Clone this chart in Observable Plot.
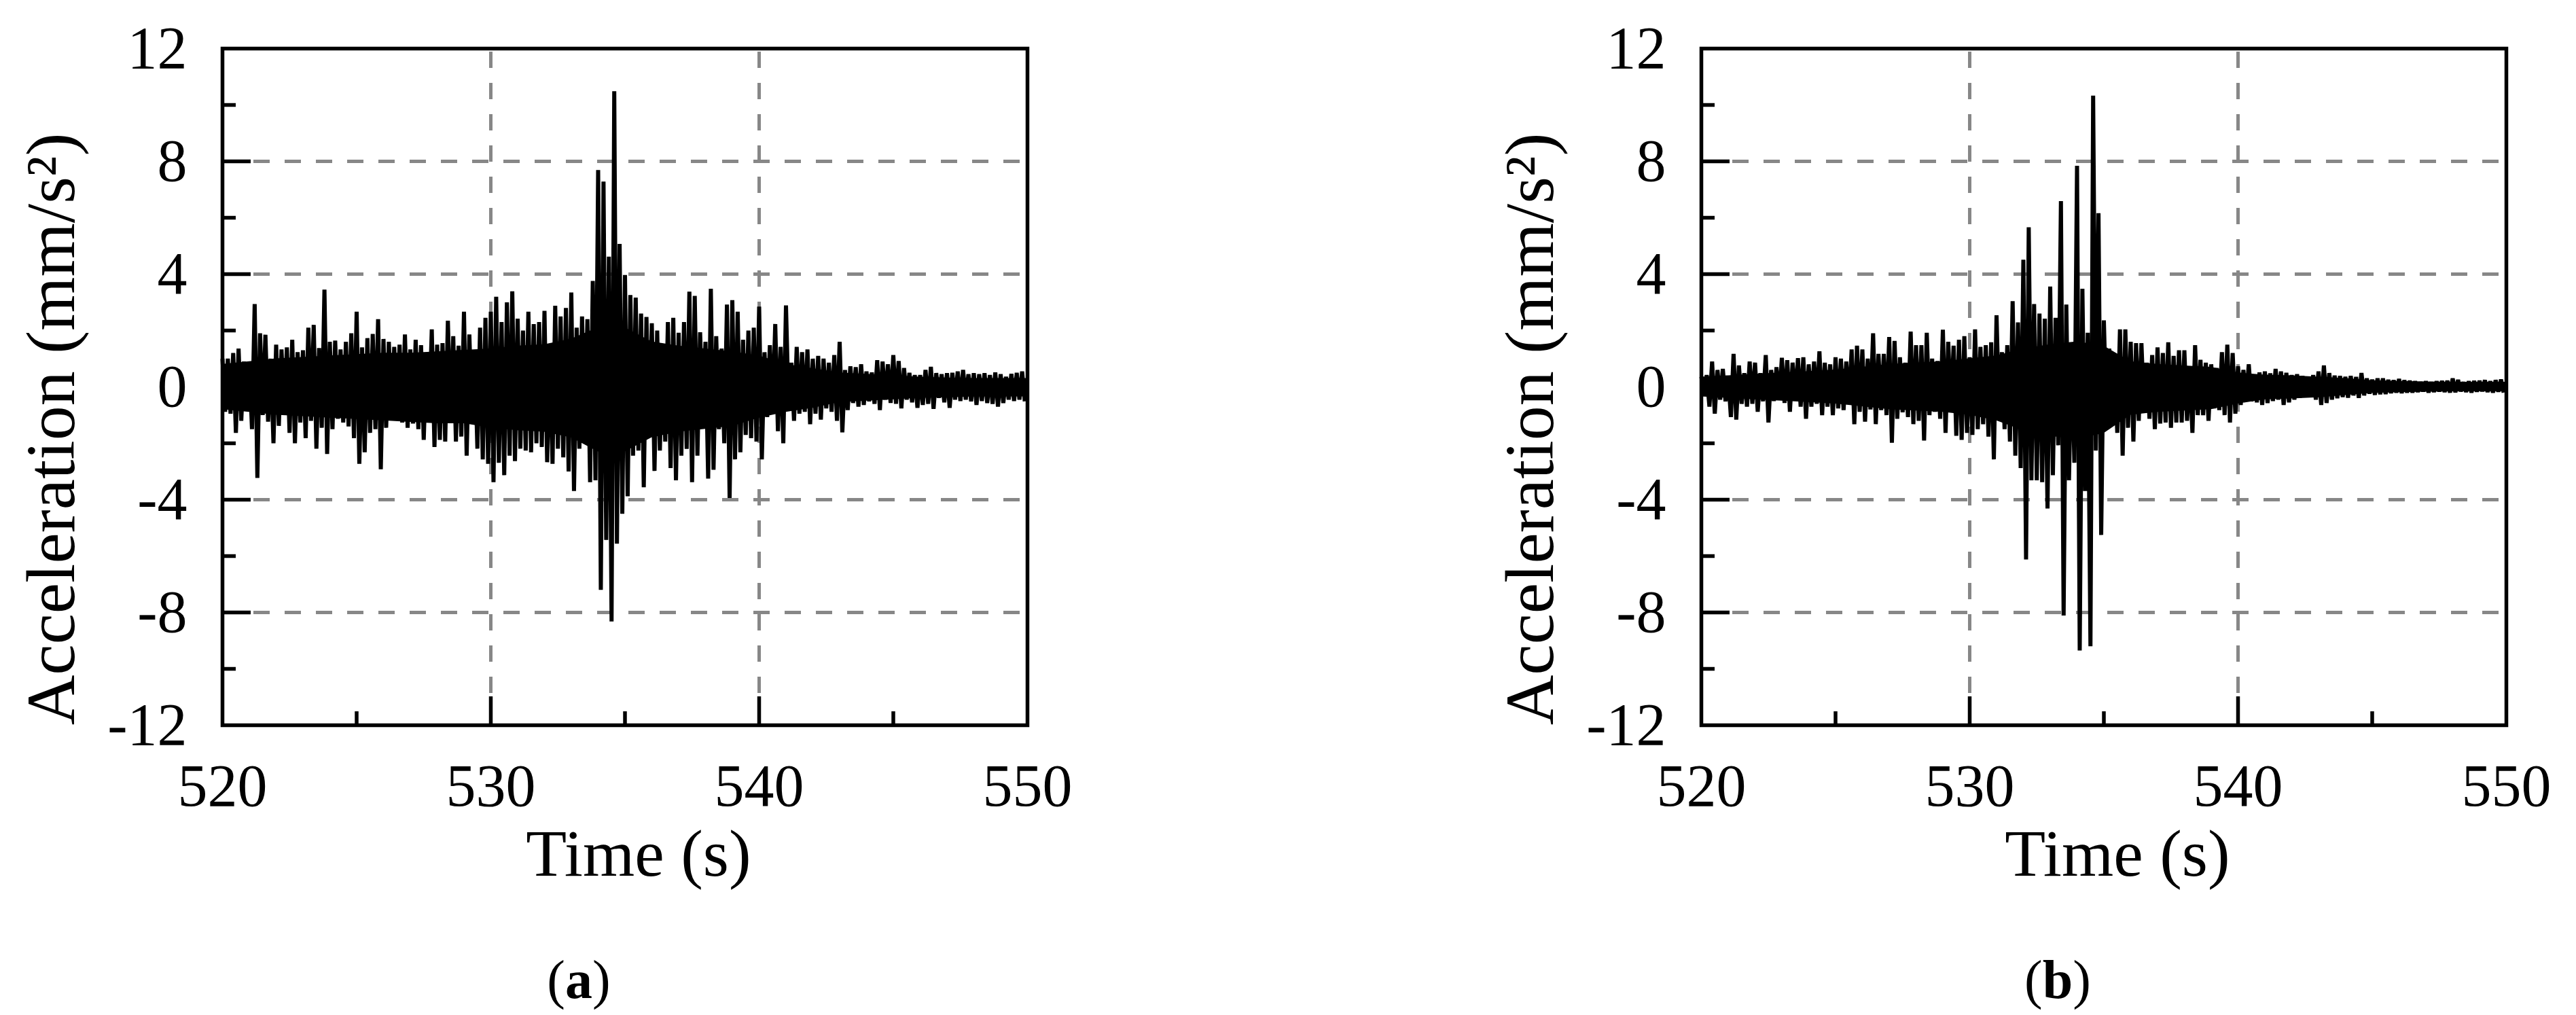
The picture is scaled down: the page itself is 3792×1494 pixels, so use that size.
<!DOCTYPE html>
<html>
<head>
<meta charset="utf-8">
<script src="https://cdn.jsdelivr.net/npm/d3@7"></script>
<script src="https://cdn.jsdelivr.net/npm/@observablehq/plot@0.6"></script>
<style>
  html, body { margin: 0; padding: 0; background: #fff; }
  #page { position: relative; width: 3792px; height: 1494px; background: #fff; overflow: hidden;
          font-family: "Liberation Serif", "Times New Roman", serif; color: #000; }
  .panel { position: absolute; top: 0; width: 1615px; height: 1494px; }
  .panel svg { position: absolute; left: 0; top: 0; }
  .cap { position: absolute; top: 1402px; left: 0; width: 1704px; text-align: center;
         font-size: 80px; line-height: 80px; font-family: "Liberation Serif", "Times New Roman", serif; }
</style>
</head>
<body>
<div id="page"></div>
<script>
// ---- data ----
const timeStart = 520;     // s, first sample
const sampleStep = 0.1;    // s, samples alternate peak / trough

// Panel (a): local peaks (every 0.2 s) and troughs (offset 0.1 s)
const upA = [
  1.0,1.0,1.2,1.36,0.9,0.8,2.94,1.9,1.85,1.0, 1.5,1.33,1.4,1.67,1.23,1.3,2.1,2.2,1.38,3.45,
  1.6,1.64,1.33,1.6,1.9,2.67,1.4,1.73,1.88,2.4, 1.7,1.6,1.42,1.5,1.86,1.33,1.67,1.48,1.1,2.04,
  1.5,1.55,2.35,1.8,1.46,2.67,1.86,1.23,2.1,2.45,
  2.67,3.2,2.3,3.0,3.39,2.42,2.0,2.67,2.23,2.3, 2.7,1.26,2.88,2.5,2.8,3.35,2.1,2.5,2.4,3.76,
  7.69,7.28,4.62,10.49,5.07,3.97,3.26,3.17,2.6,2.48, 2.26,2.0,1.48,2.3,2.45,1.92,2.3,3.38,3.23,1.94,
  1.6,3.48,1.8,1.36,2.92,3.08,2.67,1.67,2.0,2.1,
  2.85,1.23,1.48,2.23,1.42,2.89,0.86,1.42,1.23,1.33, 1.0,1.1,1.0,0.86,1.13,1.6,0.6,0.73,0.7,0.8,
  0.55,0.51,0.95,0.9,0.8,1.13,0.92,0.67,0.5,0.42, 0.42,0.6,0.71,0.49,0.45,0.49,0.5,0.55,0.6,0.45,
  0.49,0.45,0.49,0.42,0.51,0.45,0.36,0.46,0.5,0.55
];
const downA = [
  -0.88,-0.95,-1.63,-1.2,-0.82,-1.5,-3.23,-1.0,-1.23,-2.0, -1.38,-1.0,-1.63,-2.0,-1.26,-1.82,-1.2,-2.19,-1.45,-2.38,
  -1.5,-1.13,-1.26,-1.4,-1.82,-2.73,-2.32,-1.63,-1.5,-2.92, -1.45,-1.13,-1.0,-1.26,-1.45,-1.3,-1.5,-1.88,-1.1,-2.13,
  -1.88,-1.94,-1.2,-1.94,-1.76,-2.44,-1.2,-2.19,-2.57,-2.73,
  -3.38,-2.69,-3.13,-2.44,-2.63,-2.19,-2.26,-2.32,-2.0,-2.13, -2.67,-2.73,-2.19,-2.5,-3.0,-3.69,-2.19,-1.88,-3.38,-3.31,
  -7.2,-5.43,-8.32,-5.56,-4.5,-3.88,-2.44,-2.26,-3.56,-1.76, -2.98,-2.26,-1.94,-2.88,-3.31,-2.44,-2.2,-3.38,-2.44,-1.13,
  -3.25,-2.94,-1.5,-2.0,-3.94,-2.57,-2.32,-1.7,-1.82,-1.94,
  -2.57,-1.07,-0.95,-1.57,-2.0,-0.82,-1.2,-0.95,-0.88,-1.32, -0.95,-1.16,-0.76,-0.88,-1.2,-1.61,-0.82,-0.57,-0.7,-0.64,
  -0.51,-0.6,-0.82,-0.45,-0.57,-0.6,-0.76,-0.45,-0.55,-0.74, -0.64,-0.6,-0.78,-0.39,-0.55,-0.74,-0.45,-0.5,-0.45,-0.51,
  -0.64,-0.5,-0.57,-0.6,-0.7,-0.57,-0.45,-0.5,-0.45,-0.51
];

// Panel (b)
const upB = [
  0.36,0.42,0.9,0.6,0.64,0.36,1.17,0.76,0.49,0.9, 0.86,0.49,1.13,0.6,0.7,1.03,0.95,0.86,1.02,1.05,
  0.8,0.9,1.26,0.86,0.8,1.05,1.0,0.9,1.33,1.46, 1.33,1.0,1.9,1.17,1.17,1.77,1.63,1.05,0.86,1.96,
  1.48,1.48,1.92,1.0,0.92,2.03,1.6,1.46,1.67,1.8,
  1.05,2.04,1.42,1.48,1.58,2.54,1.23,1.48,3.04,2.29, 4.51,5.66,2.94,2.6,2.42,3.56,2.45,6.59,2.92,1.55,
  7.84,3.48,1.92,10.33,6.16,2.36,1.36,0.8,2.04,2.04, 1.6,1.55,1.55,0.86,1.13,1.4,1.2,1.58,1.1,1.3,
  1.3,0.67,1.48,0.96,0.86,0.8,0.67,1.23,1.5,1.2,
  0.73,0.6,0.8,0.42,0.51,0.55,0.48,0.64,0.55,0.5, 0.42,0.45,0.39,0.35,0.42,0.55,0.76,0.49,0.4,0.39,
  0.36,0.39,0.35,0.49,0.3,0.26,0.3,0.3,0.25,0.24, 0.28,0.24,0.22,0.2,0.17,0.2,0.17,0.2,0.21,0.22,
  0.3,0.25,0.17,0.2,0.21,0.22,0.24,0.2,0.24,0.26
];
const downB = [
  -0.26,-0.7,-0.95,-0.45,-0.51,-1.07,-1.16,-0.6,-0.7,-0.6, -0.88,-0.51,-1.26,-0.5,-0.45,-0.57,-0.88,-0.39,-0.7,-1.13,
  -0.7,-0.6,-1.0,-0.7,-1.0,-0.76,-0.82,-0.6,-1.32,-0.88, -1.23,-0.8,-1.32,-0.82,-1.0,-1.98,-1.13,-0.9,-1.07,-1.32,
  -1.2,-1.9,-1.0,-0.88,-1.13,-1.63,-0.82,-1.73,-1.88,-1.63,
  -1.7,-1.5,-1.32,-1.76,-2.57,-1.13,-1.5,-1.94,-2.44,-2.88, -6.12,-3.31,-3.31,-3.38,-4.31,-3.13,-2.07,-8.11,-3.31,-2.69,
  -9.35,-3.69,-9.2,-2.26,-5.25,-1.26,-0.82,-1.63,-2.44,-1.45, -1.94,-1.2,-0.9,-1.13,-1.5,-1.3,-1.26,-1.45,-1.26,-1.26,
  -1.2,-1.63,-1.0,-1.0,-1.2,-0.76,-0.82,-1.0,-1.26,-0.95,
  -0.64,-0.45,-0.51,-0.55,-0.64,-0.57,-0.5,-0.45,-0.64,-0.55, -0.45,-0.38,-0.32,-0.35,-0.45,-0.64,-0.57,-0.45,-0.4,-0.36,
  -0.38,-0.3,-0.39,-0.3,-0.24,-0.28,-0.26,-0.25,-0.22,-0.2, -0.22,-0.2,-0.2,-0.18,-0.16,-0.2,-0.18,-0.16,-0.18,-0.2,
  -0.19,-0.16,-0.18,-0.2,-0.17,-0.16,-0.18,-0.2,-0.17,-0.2
];

// Solid (dense) core of each record, read once per second, 520 … 550 s
const coreTimes = [520,521,522,523,524,525,526,527,528,529,530,531,532,533,534,535,536,537,538,539,540,
                   541,542,543,544,545,546,547,548,549,550];
const coreUpA = [0.8,0.9,1.0,1.05,1.1,1.15,1.2,1.2,1.25,1.3, 1.35,1.45,1.5,1.7,2.1,2.1,1.6,1.45,1.35,1.25,
                 1.1,0.8,0.65,0.5,0.45,0.4,0.35,0.32,0.3,0.3,0.3];
const coreDownA = [-0.8,-0.9,-1.0,-1.05,-1.1,-1.15,-1.2,-1.25,-1.3,-1.3, -1.45,-1.55,-1.6,-1.8,-2.3,-2.3,-1.8,-1.6,-1.5,-1.4,
                   -1.1,-0.9,-0.75,-0.55,-0.5,-0.45,-0.4,-0.38,-0.35,-0.35,-0.35];
const coreUpB = [0.35,0.4,0.45,0.5,0.55,0.6,0.7,0.8,0.85,0.9, 1.0,1.1,1.35,1.5,1.6,1.45,0.9,0.8,0.75,0.7,
                 0.5,0.42,0.4,0.35,0.3,0.22,0.2,0.18,0.17,0.17,0.17];
const coreDownB = [-0.35,-0.4,-0.45,-0.5,-0.55,-0.6,-0.7,-0.8,-0.85,-0.9, -1.0,-1.2,-1.55,-1.75,-1.85,-1.65,-1.0,-0.9,-0.85,-0.8,
                   -0.6,-0.45,-0.42,-0.38,-0.3,-0.22,-0.2,-0.18,-0.17,-0.17,-0.17];

const xDomain = [520, 550];
const yDomain = [-12, 12];
const xMajorTicks = [520, 530, 540, 550];
const xMinorTicks = [525, 535, 545];
const xGridLines = [530, 540];
const yMajorTicks = [-12, -8, -4, 0, 4, 8, 12];
const yMinorTicks = [-10, -6, -2, 2, 6, 10];
const yGridLines = [-8, -4, 0, 4, 8];
const xTitle = "Time (s)";
const yTitle = "Acceleration (mm/s²)";
const captionLetters = ["a", "b"];

// ---- build ----
function buildRows(up, down) {
  const rows = [];
  for (let k = 0; k < up.length; k++) {
    rows.push({t: timeStart + 2 * k * sampleStep, a: up[k]});
    rows.push({t: timeStart + (2 * k + 1) * sampleStep, a: down[k]});
  }
  return rows;
}
function buildCore(hi, lo) {
  return coreTimes.map((t, i) => ({t, hi: hi[i], lo: lo[i]}));
}

const FONT = "Liberation Serif, Times New Roman, serif";
const W = 1615, H = 1340, mL = 327, mR = 103, mT = 71, frameBottom = 1067;
const mB = H - frameBottom;
const plotW = W - mL - mR, plotH = H - mT - mB;
const GRID = "#878787";

function chart(rows, core) {
  return Plot.plot({
    width: W, height: H,
    marginLeft: mL, marginRight: mR, marginTop: mT, marginBottom: mB,
    x: {domain: xDomain, label: null},
    y: {domain: yDomain, label: null},
    style: {fontFamily: FONT, background: "white", color: "black", overflow: "visible"},
    marks: [
      Plot.ruleY(yGridLines, {stroke: GRID, strokeWidth: 5, strokeDasharray: "24,22"}),
      Plot.ruleX(xGridLines, {stroke: GRID, strokeWidth: 5, strokeDasharray: "24,22", strokeDashoffset: -5}),
      Plot.areaY(core, {x: "t", y1: "lo", y2: "hi", fill: "black"}),
      Plot.line(rows, {x: "t", y: "a", stroke: "black", strokeWidth: 6,
                       strokeLinejoin: "bevel", strokeLinecap: "butt"}),
      Plot.tickY(yMajorTicks.slice(1, -1), {stroke: "black", strokeWidth: 5.5, insetRight: plotW - 42}),
      Plot.tickY(yMinorTicks, {stroke: "black", strokeWidth: 5.5, insetRight: plotW - 20}),
      Plot.tickX(xMajorTicks.slice(1, -1), {stroke: "black", strokeWidth: 5.5, insetTop: plotH - 42}),
      Plot.tickX(xMinorTicks, {stroke: "black", strokeWidth: 5.5, insetTop: plotH - 20}),
      Plot.frame({stroke: "black", strokeWidth: 5.5}),
      Plot.axisY(yMajorTicks, {tickSize: 0, tickPadding: 52, fontSize: 88, fontFamily: FONT,
                               tickFormat: d => String(d), label: null}),
      Plot.axisX(xMajorTicks, {tickSize: 0, tickPadding: 56, fontSize: 88, fontFamily: FONT,
                               tickFormat: d => String(d), label: null}),
      Plot.text([xTitle], {frameAnchor: "bottom", dx: 20, dy: 152, lineAnchor: "top", textAnchor: "middle",
                           fontSize: 98, fontFamily: FONT, fill: "black"}),
      Plot.text([yTitle], {frameAnchor: "left", rotate: -90, dx: -251, dy: 62, lineAnchor: "middle",
                           textAnchor: "middle", fontSize: 102, fontFamily: FONT, fill: "black"})
    ]
  });
}

const page = document.getElementById("page");
const panelData = [[upA, downA, coreUpA, coreDownA], [upB, downB, coreUpB, coreDownB]];
const panelLeft = [0, 2177];
panelData.forEach(([up, down, cHi, cLo], i) => {
  const div = document.createElement("div");
  div.className = "panel";
  div.style.left = panelLeft[i] + "px";
  div.appendChild(chart(buildRows(up, down), buildCore(cHi, cLo)));
  const cap = document.createElement("div");
  cap.className = "cap";
  cap.innerHTML = "(<b>" + captionLetters[i] + "</b>)";
  div.appendChild(cap);
  page.appendChild(div);
});
</script>
</body>
</html>
